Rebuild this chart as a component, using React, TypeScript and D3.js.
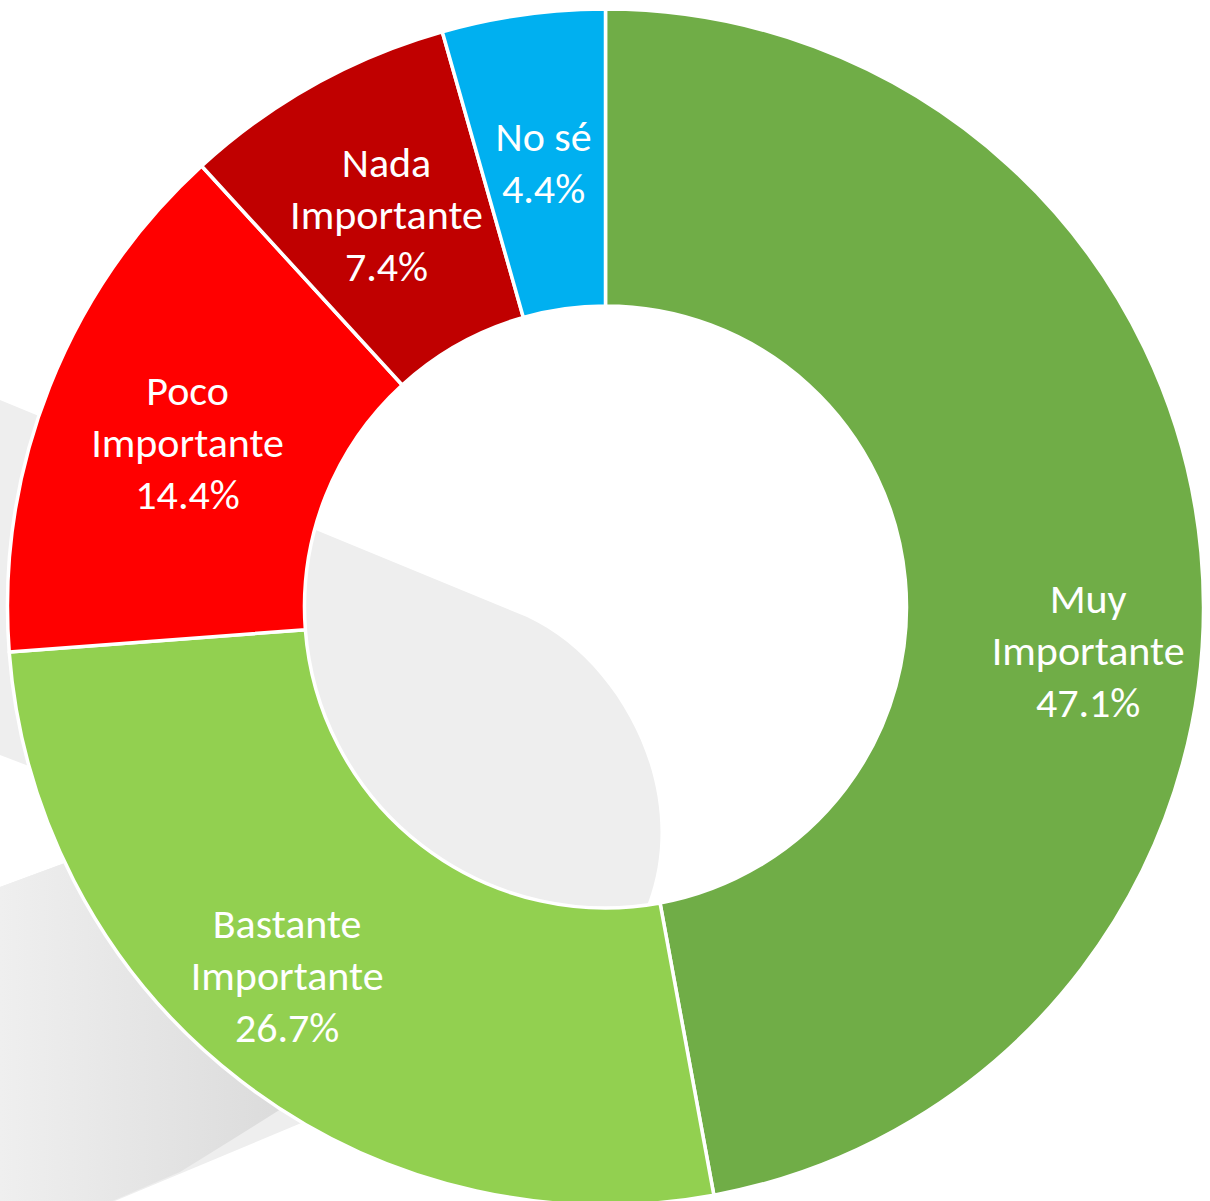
import React from 'react';
import * as d3 from 'd3';

// categories and shares (%), in clockwise order from 12 o'clock
const categories = ['Muy Importante', 'Bastante Importante', 'Poco Importante', 'Nada Importante', 'No sé'];
const shares = [47.1, 26.7, 14.4, 7.4, 4.4];
const colors = ['#70AD47', '#92D050', '#FF0000', '#C00000', '#00B0F0'];

const W = 1210;
const H = 1201;
const cx = 605.5;
const cy = 607;
const outerR = 598;
const innerR = 301;

// labels that Excel pushed off the centroid
const labelShift: Record<string, [number, number]> = {
  'Muy Importante': [35, 84],
  'Bastante Importante': [-44, 12],
};

const wrap = (s: string) => (s.length > 6 ? s.split(' ') : [s]);

export default function App() {
  const pie = d3.pie<number>().value(d => d).sort(null);
  const arc = d3.arc<d3.PieArcDatum<number>>().innerRadius(innerR).outerRadius(outerR);
  const arcs = pie(shares);
  const lineH = 52;

  return (
    <svg width={W} height={H} style={{ position: 'absolute', left: 0, top: 0, display: 'block' }}>
      <defs>
        <linearGradient id="swoosh" x1="0" y1="0" x2="300" y2="0" gradientUnits="userSpaceOnUse">
          <stop offset="0" stopColor="#efefef" />
          <stop offset="1" stopColor="#dadada" />
        </linearGradient>
      </defs>
      {/* background decoration */}
      <path d="M0,400 L527,617 C620,660 690,790 648,903 L640,1000 L0,755 Z" fill="#eeeeee" />
      <path d="M0,887 L200,813 L330,1111 L0,1249 Z" fill="#eeeeee" />
      <path d="M0,887 L200,813 L300,1000 L281,1109 Q240,1135 180,1172 L0,1249 Z" fill="url(#swoosh)" />

      <g transform={`translate(${cx},${cy})`}>
        {arcs.map((a, i) => (
          <path key={categories[i]} d={arc(a) || ''} fill={colors[i]} stroke="#fff" strokeWidth={3.5} strokeLinejoin="round" />
        ))}
        {arcs.map((a, i) => {
          const [x, y] = arc.centroid(a);
          const sh = labelShift[categories[i]] || [0, 0];
          const lines = [...wrap(categories[i]), `${shares[i].toFixed(1)}%`];
          const y0 = y + sh[1] - ((lines.length - 1) * lineH) / 2;
          return (
            <text
              key={'l' + i}
              x={x + sh[0]}
              y={y0}
              textAnchor="middle"
              dominantBaseline="central"
              fill="#fff"
              fontFamily="Calibri, Carlito, 'Open Sans', sans-serif"
              fontSize={42}
            >
              {lines.map((t, j) => (
                <tspan key={j} x={x + sh[0]} y={y0 + j * lineH}>
                  {t}
                </tspan>
              ))}
            </text>
          );
        })}
      </g>
    </svg>
  );
}
